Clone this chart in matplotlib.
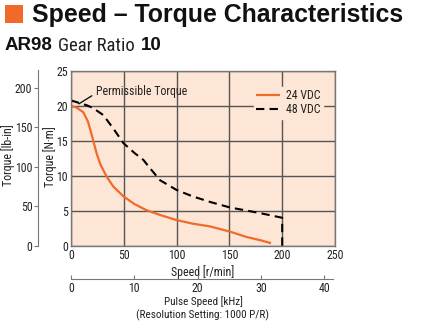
import matplotlib
matplotlib.use("Agg")
import matplotlib.pyplot as plt
from matplotlib import font_manager as fm
from matplotlib.patches import Rectangle

names = sorted({f.name for f in fm.fontManager.ttflist})
NARROW = "Liberation Sans"
for cand in ["Liberation Sans Narrow", "Roboto Condensed", "Open Sans Condensed", "DejaVu Sans Condensed"]:
    if cand in names:
        NARROW = cand
        break
BOLD = "Liberation Sans"

# ---- data ----
speed_24 = [0, 5, 11.7, 16, 19.6, 24.3, 28, 33.8, 40, 49.6, 60, 71.7, 85, 100, 115, 131.6, 150.6, 166, 180, 189.4]
torque_24 = [20.0, 19.8, 19.1, 17.8, 15.9, 13.2, 11.6, 9.9, 8.5, 7.1, 6.0, 5.1, 4.4, 3.7, 3.2, 2.8, 2.05, 1.3, 0.8, 0.4]
speed_48 = [0, 8.5, 15, 21, 30.6, 40, 49.6, 60, 68.5, 76, 84.3, 100, 115, 131.6, 150.6, 165, 179, 199.5, 200, 200]
torque_48 = [20.8, 20.4, 20.1, 19.7, 18.7, 16.8, 14.7, 13.3, 12.3, 10.9, 9.4, 8.0, 7.1, 6.3, 5.5, 5.1, 4.7, 4.05, 4.0, 0.0]
x_ticks = [0, 50, 100, 150, 200, 250]
y_ticks = [0, 5, 10, 15, 20, 25]
lb_ticks = [0, 50, 100, 150, 200]
khz_ticks = [0, 10, 20, 30, 40]
NM_TO_LBIN = 8.851
RPM_TO_KHZ = 10 * 1000 / 60 / 1000

ORANGE = "#f26a2a"
PEACH = "#fde6d5"
GRID = "#555555"
TXT = "#222222"
FS = 8.0
FT = 8.6
FY = 8.6

W, H = 425, 325
fig = plt.figure(figsize=(W / 100, H / 100), dpi=100)

def fx(px):
    return px / W

def fy(py):
    return 1 - py / H

L, R, T, B = 71, 335, 71, 246
ax = fig.add_axes([fx(L), fy(B), fx(R - L), fy(T) - fy(B)])
ax.set_facecolor(PEACH)
ax.set_xlim(0, 250)
ax.set_ylim(0, 25)
ax.set_xticks(x_ticks)
ax.set_yticks(y_ticks)
ax.grid(True, color=GRID, linewidth=1.0)
ax.set_axisbelow(True)
for s in ax.spines.values():
    s.set_color("#777777")
    s.set_linewidth(1.0)
ax.tick_params(length=0, pad=2, labelsize=FT, colors=TXT)
for lab in ax.get_xticklabels() + ax.get_yticklabels():
    lab.set_family(NARROW)

ax.plot(speed_24, torque_24, color=ORANGE, linewidth=1.6, label="24 VDC", solid_capstyle="butt")
ax.plot(speed_48, torque_48, color="black", linewidth=1.5, linestyle=(0, (4, 2.5)), label="48 VDC")

leg = ax.legend(loc="upper right", bbox_to_anchor=(0.955, 0.91), frameon=True,
                prop={"family": NARROW, "size": FT}, handlelength=2.0, handletextpad=0.5,
                borderpad=0.2, labelspacing=0.1, borderaxespad=0)
leg.get_frame().set_facecolor(PEACH)
leg.get_frame().set_edgecolor(PEACH)
leg.get_frame().set_alpha(1)
for t in leg.get_texts():
    t.set_color(TXT)

ax.annotate("Permissible Torque", xy=(7.4, 20.3), xytext=(23.5, 22.0),
            fontsize=FT, family=NARROW, color=TXT, va="center", ha="left",
            arrowprops=dict(arrowstyle="-", color="black", lw=0.9, shrinkA=1, shrinkB=0,
                            relpos=(0, 0.4)))

ax.set_xlabel("Speed [r/min]", family=NARROW, fontsize=FY, color=TXT, labelpad=2)
fig.text(fx(50), fy(157), "Torque [N·m]", family=NARROW, fontsize=FY, color=TXT,
         rotation=90, ha="center", va="center")
fig.text(fx(8.5), fy(155), "Torque [lb-in]", family=NARROW, fontsize=FY, color=TXT,
         rotation=90, ha="center", va="center")

# lb-in axis
axl = fig.add_axes([fx(38), fy(B), 0.0001, fy(70) - fy(B)])
axl.set_ylim(0, 25 * NM_TO_LBIN * (B - 70) / (B - T))
axl.set_yticks(lb_ticks)
axl.set_xticks([])
for k in ["top", "right", "bottom"]:
    axl.spines[k].set_visible(False)
axl.spines["left"].set_color("#777777")
axl.patch.set_visible(False)
axl.tick_params(axis="y", direction="out", length=3, width=0.8, color="#777777", labelsize=FT, pad=1.0, colors=TXT)
for lab in axl.get_yticklabels():
    lab.set_family(NARROW)

# pulse speed axis
axp = fig.add_axes([fx(L), fy(279), fx(R - L), 0.0001])
axp.set_xlim(0, 250 * RPM_TO_KHZ)
axp.set_xticks(khz_ticks)
axp.set_yticks([])
for k in ["top", "right", "left"]:
    axp.spines[k].set_visible(False)
axp.spines["bottom"].set_color("#777777")
axp.spines["bottom"].set_bounds(0, 41.4)
axp.patch.set_visible(False)
axp.tick_params(axis="x", direction="in", length=3, width=0.8, color="#777777", labelsize=FT, pad=2, colors=TXT)
for lab in axp.get_xticklabels():
    lab.set_family(NARROW)
fig.text(fx(203), fy(302), "Pulse Speed [kHz]", family=NARROW, fontsize=FS, color=TXT, ha="center", va="center")
fig.text(fx(203), fy(315), "(Resolution Setting: 1000 P/R)", family=NARROW, fontsize=FS, color=TXT, ha="center", va="center")

# title
fig.patches.append(Rectangle((fx(5), fy(23)), fx(18), fy(5) - fy(23), transform=fig.transFigure,
                             facecolor=ORANGE, edgecolor="none"))
fig.text(fx(32), fy(15), "Speed – Torque Characteristics", family=BOLD, weight="bold",
         fontsize=17.9, color="#111111", ha="left", va="center")
t1 = fig.text(fx(5), fy(46), "AR98", family=BOLD, weight="bold", fontsize=13.5, color="#111111", ha="left", va="center")
fig.canvas.draw()
r = fig.canvas.get_renderer()
bb = t1.get_window_extent(r)
t2 = fig.text((bb.x1 + 5) / W, fy(46), "Gear Ratio", family=NARROW, fontsize=13.5, color="#222222", ha="left", va="center")
bb2 = t2.get_window_extent(r)
fig.text((bb2.x1 + 6) / W, fy(46), "10", family=BOLD, weight="bold", fontsize=13.5, color="#111111", ha="left", va="center")

fig.savefig("out.png", dpi=100, facecolor="white")
